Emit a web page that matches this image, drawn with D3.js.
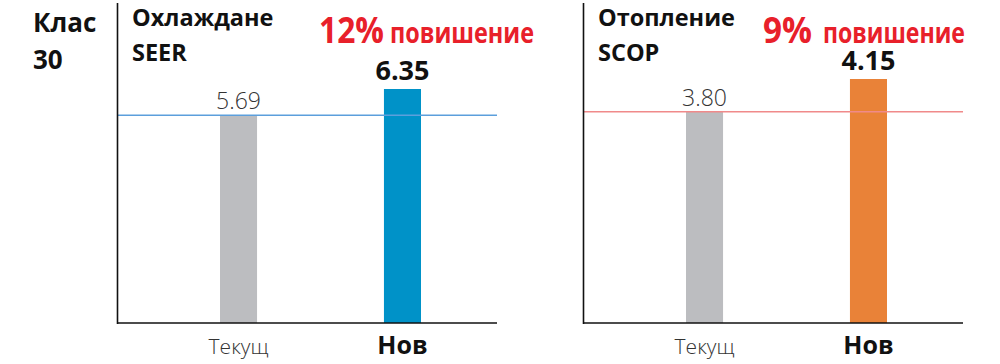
<!DOCTYPE html>
<html>
<head>
<meta charset="utf-8">
<script src="https://cdn.jsdelivr.net/npm/d3@7"></script>
<style>
  html, body { margin: 0; padding: 0; background: #fff; }
  text { font-family: "Open Sans", "Noto Sans", sans-serif; }
</style>
</head>
<body>
<div id="chart"></div>
<script>
// данни
const categories = ["Текущ", "Нов"];
const coolingValues = [5.69, 6.35];
const heatingValues = [3.80, 4.15];
const valueLabels = [["5.69", "6.35"], ["3.80", "4.15"]];
const panelTitles = [["Охлаждане", "SEER"], ["Отопление", "SCOP"]];
const gainPercent = ["12%", "9%"];
const gainWord = "повишение";
const classLabel = ["Клас", "30"];

const width = 1000, height = 364;
const svg = d3.select("#chart").append("svg")
  .attr("width", width)
  .attr("height", height);

// заглавие вляво
svg.selectAll(".klas")
  .data(classLabel)
  .enter().append("text")
  .attr("x", 33)
  .attr("y", (d, i) => 32 + i * 37)
  .attr("font-size", 26)
  .attr("font-weight", 700)
  .attr("fill", "#111")
  .text(d => d);

const panels = [
  { values: coolingValues, labels: valueLabels[0], title: panelTitles[0], gain: gainPercent[0],
    dx: 0, color: "#0092c8", lineColor: "#5c9fdc", domainMin: 0.46, top: 89,
    pctX: 319, pctW: 65, wordX: 390, wordW: 144 },
  { values: heatingValues, labels: valueLabels[1], title: panelTitles[1], gain: gainPercent[1],
    dx: 466, color: "#e98238", lineColor: "#f08a8a", domainMin: 1.54, top: 79,
    pctX: 297, pctW: 49, wordX: 357, wordW: 142 }
];

const baseY = 323;

panels.forEach(p => {
  const g = svg.append("g").attr("transform", `translate(${p.dx},0)`);

  const x = d3.scaleBand()
    .domain(categories)
    .range([220, 421])
    .paddingInner(0.774)
    .paddingOuter(0);

  const y = d3.scaleLinear()
    .domain([p.domainMin, d3.max(p.values)])
    .range([baseY, p.top]);

  // бари
  g.selectAll("rect")
    .data(p.values)
    .enter().append("rect")
    .attr("x", (d, i) => x(categories[i]))
    .attr("y", d => y(d))
    .attr("width", x.bandwidth())
    .attr("height", d => baseY - y(d))
    .attr("fill", (d, i) => i === 0 ? "#bcbdc0" : p.color);

  // референтна линия на текущата стойност
  g.append("line")
    .attr("x1", 118).attr("x2", 497)
    .attr("y1", y(p.values[0])).attr("y2", y(p.values[0]))
    .attr("stroke", p.lineColor)
    .attr("stroke-width", 1.5);

  // оси
  g.append("line")
    .attr("x1", 117.5).attr("x2", 117.5)
    .attr("y1", 3).attr("y2", baseY + 1)
    .attr("stroke", "#111").attr("stroke-width", 1.6);
  g.append("line")
    .attr("x1", 117).attr("x2", 497)
    .attr("y1", baseY).attr("y2", baseY)
    .attr("stroke", "#111").attr("stroke-width", 1.6);

  // стойности над барите
  g.selectAll(".val")
    .data(p.values)
    .enter().append("text")
    .attr("x", (d, i) => x(categories[i]) + x.bandwidth() / 2)
    .attr("y", (d, i) => y(d) - (i === 0 ? 6 : 9))
    .attr("text-anchor", "middle")
    .attr("font-size", (d, i) => i === 0 ? 23 : 27)
    .attr("font-weight", (d, i) => i === 0 ? 300 : 700)
    .attr("fill", (d, i) => i === 0 ? "#333" : "#111")
    .text((d, i) => p.labels[i]);

  // етикети на категориите
  g.selectAll(".cat")
    .data(categories)
    .enter().append("text")
    .attr("x", d => x(d) + x.bandwidth() / 2)
    .attr("y", 354)
    .attr("text-anchor", "middle")
    .attr("font-size", (d, i) => i === 0 ? 21 : 25)
    .attr("font-weight", (d, i) => i === 0 ? 300 : 700)
    .attr("fill", (d, i) => i === 0 ? "#333" : "#111")
    .text(d => d);

  // заглавие на панела
  g.selectAll(".title")
    .data(p.title)
    .enter().append("text")
    .attr("x", 132)
    .attr("y", (d, i) => 26 + i * 35)
    .attr("font-size", 23.5)
    .attr("font-weight", 700)
    .attr("fill", "#111")
    .text(d => d);

  // процент повишение
  g.append("text")
    .attr("x", p.pctX)
    .attr("y", 43)
    .attr("font-size", 36)
    .attr("font-weight", 700)
    .attr("fill", "#e8202a")
    .attr("textLength", p.pctW)
    .attr("lengthAdjust", "spacingAndGlyphs")
    .text(p.gain);
  g.append("text")
    .attr("x", p.wordX)
    .attr("y", 43)
    .attr("font-size", 28)
    .attr("font-weight", 700)
    .attr("fill", "#e8202a")
    .attr("textLength", p.wordW)
    .attr("lengthAdjust", "spacingAndGlyphs")
    .text(gainWord);
});
</script>
</body>
</html>
